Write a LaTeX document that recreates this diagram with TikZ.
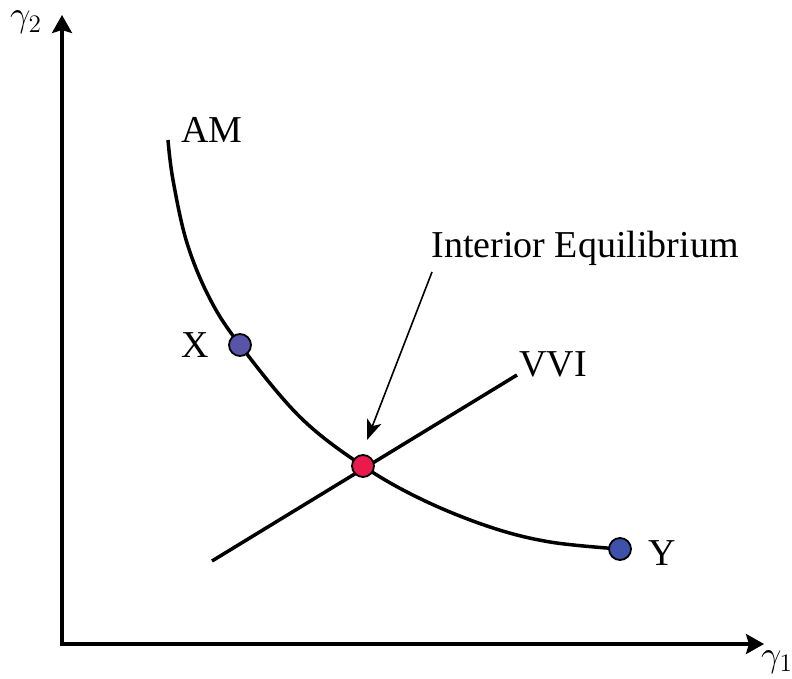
\documentclass[tikz,border=0pt]{standalone}
\usepackage{fontspec}
\setmainfont{Liberation Serif}
\usetikzlibrary{arrows.meta,calc}
\definecolor{xdot}{RGB}{88,84,168}
\definecolor{ydot}{RGB}{62,82,170}
\definecolor{eqdot}{RGB}{234,26,76}
\tikzset{
  axisline/.style={line width=3.5pt,-{Stealth[length=18pt,width=20pt,inset=3pt]}},
  curveline/.style={line width=3.5pt},
  pointdot/.style={circle,draw=black,line width=1.8pt,minimum size=22pt,inner sep=0pt},
  lbl/.style={anchor=base,inner sep=0pt,font=\fontsize{38}{42}\selectfont},
  axlbl/.style={anchor=base,inner sep=0pt,font=\fontsize{20}{24}\selectfont},
  pointer/.style={line width=1.6pt,-{Stealth[length=20pt,width=15pt,inset=5pt]}}
}
\begin{document}
\begin{tikzpicture}[x=1pt,y=-1pt]
\useasboundingbox (0,0) rectangle (792,679);
\coordinate (O) at (62,644);
\coordinate (ytip) at (62,15);
\coordinate (xtip) at (764,644);
\draw[axisline] ($(O)+(0,1.75)$) -- (ytip);
\draw[axisline] ($(O)+(-1.75,0)$) -- (xtip);
\node[axlbl] (g2) at (26,27) {\scalebox{1.75}{$\gamma_2$}};
\node[axlbl] (g1) at (777,666) {\scalebox{1.75}{$\gamma_1$}};
% AM curve
\draw[curveline] plot[smooth,tension=0.6] coordinates {(168,140) (173,180) (187,243) (210,299) (240,345) (300,417) (363,466) (423,500) (490,527) (550,542) (620,549)};
% VVI line
\coordinate (v1) at (212,561);
\coordinate (v2) at (517,375);
\draw[curveline] (v1) -- (v2);
\node[pointdot,fill=xdot] (X) at (240,345) {};
\node[pointdot,fill=ydot] (Y) at (620,549) {};
\node[pointdot,fill=eqdot] (E) at (363,466) {};
\node[lbl] (am) at (212,143) {AM};
\node[lbl] (xl) at (195,357) {X};
\node[lbl] (yl) at (662,565) {Y};
\node[lbl,anchor=base west] (vvi) at (519,376) {VVI};
\node[lbl] (ie) at (585,257) {Interior Equilibrium};
\coordinate (pstart) at (432,272);
\coordinate (ptip) at (367,440);
\draw[pointer] (pstart) -- (ptip);
\end{tikzpicture}
\end{document}
